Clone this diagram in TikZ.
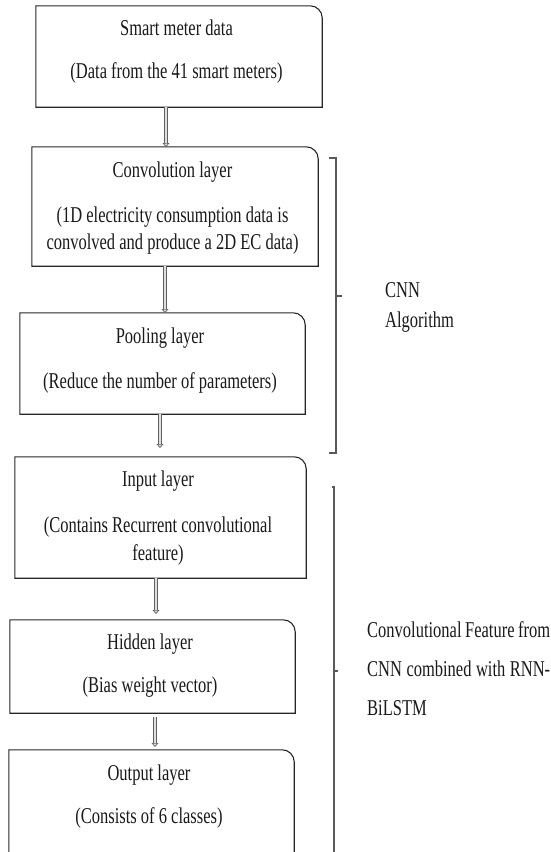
\documentclass[tikz,border=0pt]{standalone}
\usepackage{fontspec}
\newfontfamily\cndfont[FakeStretch=0.73]{Liberation Serif}
\usetikzlibrary{arrows.meta,calc}
\tikzset{
  boxline/.style={draw=black!85, line width=1.1pt},
  boxnode/.style={draw=none, shape=rectangle, inner sep=0pt},
  txt/.style={font=\cndfont\fontsize{22.6}{27}\selectfont, inner sep=0pt, anchor=base, text=black!90},
  ltxt/.style={txt, anchor=base west},
  arr/.style={draw=gray!75!black, line width=0.7pt, double=gray!25, double distance=2.2pt,
    -{Triangle[length=4pt,width=7pt,fill=gray!25]}},
  brace/.style={draw=black!65, line width=1.1pt}
}
\newcommand\snipbox[1]{\draw[boxline] (#1.south west) -- (#1.north west) -- ([xshift=-12pt]#1.north east) arc[start angle=90,end angle=0,radius=12pt] -- (#1.south east) -- cycle;}
\newcommand\openbox[1]{\draw[boxline] (#1.south west) -- (#1.north west) -- ([xshift=-12pt]#1.north east) arc[start angle=90,end angle=0,radius=12pt] -- (#1.south east);}
\begin{document}
\begin{tikzpicture}[x=1pt,y=-1pt]
\useasboundingbox (0,0) rectangle (551,852);
\clip (0,0) rectangle (551,852);
% boxes
\node[boxnode, minimum width=286pt, minimum height=101pt] (b1) at (179,56.5) {};
\node[boxnode, minimum width=286pt, minimum height=119pt] (b2) at (175,206.5) {};
\node[boxnode, minimum width=285pt, minimum height=101pt] (b3) at (162.5,363.5) {};
\node[boxnode, minimum width=291pt, minimum height=121pt] (b4) at (160.5,517.5) {};
\node[boxnode, minimum width=285pt, minimum height=93pt] (b5) at (152.5,666.5) {};
\node[boxnode, minimum width=285pt, minimum height=110pt] (b6) at (151.5,805) {};
\snipbox{b1}\snipbox{b2}\snipbox{b3}\snipbox{b4}\snipbox{b5}\openbox{b6}
% texts
\node[txt] (t1a) at (176.5,35) {Smart meter data};
\node[txt] (t1b) at (176.5,78) {(Data from the 41 smart meters)};
\node[txt] (t2a) at (172.5,177) {Convolution layer};
\node[txt] (t2b) at (172.5,222) {(1D electricity consumption data is};
\node[txt] (t2c) at (172.5,249) {convolved and produce a 2D EC data)};
\node[txt] (t3a) at (160,343) {Pooling layer};
\node[txt] (t3b) at (160,388) {(Reduce the number of parameters)};
\node[txt] (t4a) at (158,486) {Input layer};
\node[txt] (t4b) at (158,532) {(Contains Recurrent convolutional};
\node[txt] (t4c) at (158,560) {feature)};
\node[txt] (t5a) at (150,649) {Hidden layer};
\node[txt] (t5b) at (150,692) {(Bias weight vector)};
\node[txt] (t6a) at (149,780) {Output layer};
\node[txt] (t6b) at (149,823) {(Consists of 6 classes)};
% arrows
\coordinate (e1) at (166,147);
\coordinate (e2) at (165,313);
\coordinate (e3) at (160,448);
\coordinate (e4) at (156,614);
\coordinate (e5) at (155,747);
\draw[arr] (b1.south -| e1) -- (e1);
\draw[arr] (b2.south -| e2) -- (e2);
\draw[arr] (b3.south -| e3) -- (e3);
\draw[arr] (b4.south -| e4) -- (e4);
\draw[arr] ([yshift=-4pt]b5.south -| e5) -- (e5);
% braces
\coordinate (br1t) at (329,158);
\coordinate (br1b) at (329,453);
\coordinate (br1m) at (342,296);
\draw[brace] (br1t) -- (336,158) -- (336,453) -- (br1b);
\draw[brace] (336,296) -- (br1m);
\coordinate (br2t) at (332,487);
\coordinate (br2m) at (338,671);
\draw[brace] (br2t) -- (334,487) -- (334,852);
\draw[brace] (334,671) -- (br2m);
% side labels
\node[ltxt] (c1) at (385,297) {CNN};
\node[ltxt] (c2) at (385,327) {Algorithm};
\node[ltxt] (r1) at (367,637) {\makebox[183pt][s]{Convolutional Feature from}};
\node[ltxt] (r2) at (367,676) {\makebox[183pt][s]{CNN combined with RNN-}};
\node[ltxt] (r3) at (367,715) {BiLSTM};
\end{tikzpicture}
\end{document}
